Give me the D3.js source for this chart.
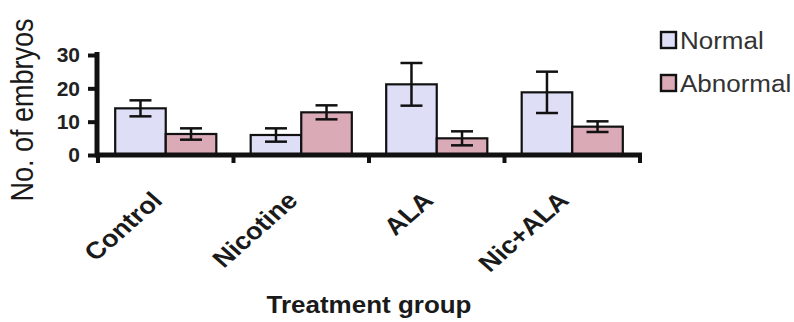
<!DOCTYPE html>
<html>
<head>
<meta charset="utf-8">
<script src="https://cdn.jsdelivr.net/npm/d3@7"></script>
<style>
    body { margin: 0; background: #fff; }
    text { font-family: Arial, "Liberation Sans", sans-serif; }
</style>
</head>
<body>
<div id="viz"></div>
<script>
// grouped bar chart with error bars
// normal vs abnormal embryos per treatment group

const groups = ['Control', 'Nicotine', 'ALA', 'Nic+ALA'];
const seriesNames = ['Normal', 'Abnormal'];
const normalValues = [14, 6, 21.2, 18.8];
const normalErrors = [2.4, 2, 6.4, 6.2];
const abnormalValues = [6.3, 12.8, 5, 8.5];
const abnormalErrors = [1.7, 2.1, 2.1, 1.6];
const yTicks = [0, 10, 20, 30];

function drawChart() {
    const dataset = groups.map((g, i) => ({
        group: g,
        values: [
            { series: 'Normal', value: normalValues[i], err: normalErrors[i] },
            { series: 'Abnormal', value: abnormalValues[i], err: abnormalErrors[i] }
        ]
    }));

    var dimensions = {
        width: 794,
        height: 322,
        margins: {
            top: 55,
            left: 98,
            right: 154,
            bottom: 167
        }
    }

    dimensions.boundedWidth = dimensions.width - dimensions.margins.right - dimensions.margins.left;
    dimensions.boundedHeight = dimensions.height - dimensions.margins.top - dimensions.margins.bottom;

    // the source picture is a bit wider than tall, so text gets stretched too
    const stretch = 1.13;

    const viz = d3.select('#viz').append('svg')
        .attr('width', dimensions.width)
        .attr('height', dimensions.height)

    const bounds = viz.append('g')
        .attr('transform', `translate(${dimensions.margins.left}, ${dimensions.margins.top})`);

    //scales

    const xScale = d3.scaleBand()
        .domain(groups)
        .range([0, dimensions.boundedWidth])
        .padding(0);

    const subScale = d3.scaleBand()
        .domain(seriesNames)
        .range([0, xScale.bandwidth()])
        .paddingInner(0)
        .paddingOuter(0.34);

    const yScale = d3.scaleLinear()
        .domain([0, 30])
        .range([dimensions.boundedHeight, 0]);

    const colors = d3.scaleOrdinal()
        .domain(seriesNames)
        .range(['#dfdef7', '#dbaab7']);

    //draw data

    const groupG = bounds.selectAll('.group')
        .data(dataset)
        .join('g')
        .attr('class', 'group')
        .attr('transform', d => `translate(${xScale(d.group)}, 0)`);

    groupG.selectAll('rect')
        .data(d => d.values)
        .join('rect')
        .attr('x', d => subScale(d.series))
        .attr('y', d => yScale(d.value))
        .attr('width', subScale.bandwidth())
        .attr('height', d => yScale(0) - yScale(d.value))
        .attr('fill', d => colors(d.series))
        .attr('stroke', '#111')
        .attr('stroke-width', 2.2);

    const capHalf = 11;
    const errG = groupG.selectAll('.err')
        .data(d => d.values)
        .join('g')
        .attr('class', 'err')
        .attr('stroke', '#111')
        .attr('stroke-width', 2.5);

    errG.append('line')
        .attr('x1', d => subScale(d.series) + subScale.bandwidth() / 2)
        .attr('x2', d => subScale(d.series) + subScale.bandwidth() / 2)
        .attr('y1', d => yScale(d.value + d.err))
        .attr('y2', d => yScale(d.value - d.err));

    errG.selectAll('.cap')
        .data(d => [d.value + d.err, d.value - d.err].map(v => ({ series: d.series, v: v })))
        .join('line')
        .attr('class', 'cap')
        .attr('x1', d => subScale(d.series) + subScale.bandwidth() / 2 - capHalf)
        .attr('x2', d => subScale(d.series) + subScale.bandwidth() / 2 + capHalf)
        .attr('y1', d => yScale(d.v))
        .attr('y2', d => yScale(d.v));

    //axes

    const yAxis = d3.axisLeft(yScale)
        .tickValues(yTicks)
        .tickSize(9)
        .tickPadding(8);

    const yAxisG = bounds.append('g')
        .attr('transform', 'translate(-1, 0)')
        .call(yAxis);
    yAxisG.select('.domain')
        .attr('d', `M0,-3V${dimensions.boundedHeight + 2}`)
        .attr('stroke', '#111')
        .attr('stroke-width', 5);
    yAxisG.selectAll('.tick line')
        .attr('stroke', '#111')
        .attr('stroke-width', 4);
    yAxisG.selectAll('.tick text')
        .attr('fill', '#222')
        .style('font-size', '21px')
        .style('font-weight', 'bold');

    const boundaries = d3.range(groups.length + 1).map(i => i * xScale.step());
    const xAxisG = bounds.append('g')
        .attr('transform', `translate(0, ${dimensions.boundedHeight})`);
    xAxisG.append('path')
        .attr('d', `M-3,0H${dimensions.boundedWidth + 2}`)
        .attr('stroke', '#111')
        .attr('stroke-width', 5);
    xAxisG.selectAll('.xtick')
        .data(boundaries)
        .join('line')
        .attr('class', 'xtick')
        .attr('x1', d => d)
        .attr('x2', d => d)
        .attr('y1', 0)
        .attr('y2', 8)
        .attr('stroke', '#111')
        .attr('stroke-width', 4);

    xAxisG.selectAll('.xlabel')
        .data(groups)
        .join('text')
        .attr('class', 'xlabel')
        .attr('transform', d => `translate(${xScale(d) + xScale.bandwidth() / 2 - 2}, 47) scale(${stretch}, 1) rotate(-45)`)
        .attr('text-anchor', 'end')
        .attr('fill', '#1a1a1a')
        .style('font-size', '24px')
        .style('font-weight', 'bold')
        .text(d => d);

    // axis titles
    viz.append('text')
        .attr('transform', `translate(369, 313) scale(${stretch}, 1)`)
        .attr('text-anchor', 'middle')
        .attr('fill', '#1a1a1a')
        .style('font-size', '23px')
        .style('font-weight', 'bold')
        .text('Treatment group');

    viz.append('text')
        .attr('transform', `translate(33, 110) scale(${stretch}, 1) rotate(-90)`)
        .attr('text-anchor', 'middle')
        .attr('fill', '#1a1a1a')
        .style('font-size', '27px')
        .text('No. of embryos');

    // legend
    const legend = viz.append('g')
        .attr('transform', 'translate(661, 32)');

    const legendItems = legend.selectAll('g')
        .data(seriesNames)
        .join('g')
        .attr('transform', (d, i) => `translate(0, ${i * 43})`);

    legendItems.append('rect')
        .attr('width', 15)
        .attr('height', 16)
        .attr('fill', d => colors(d))
        .attr('stroke', '#111')
        .attr('stroke-width', 2.4);

    legendItems.append('text')
        .attr('transform', `translate(19, 17) scale(${stretch}, 1)`)
        .attr('fill', '#333')
        .style('font-size', '23px')
        .text(d => d);
}

drawChart();
</script>
</body>
</html>
